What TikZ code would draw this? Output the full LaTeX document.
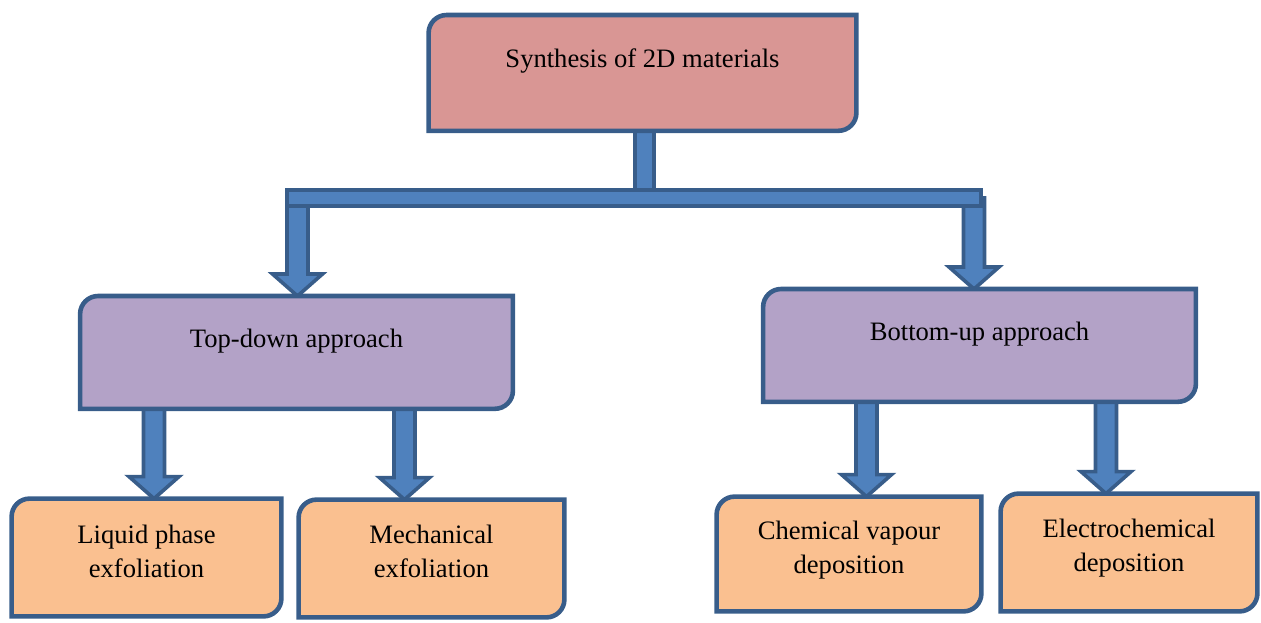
\documentclass[tikz,border=0pt]{standalone}
\usepackage{fontspec}
\setmainfont{Liberation Serif}
\usetikzlibrary{calc,backgrounds}
\definecolor{lineblue}{HTML}{385D8A}
\definecolor{fillblue}{HTML}{4F81BD}
\definecolor{rosefill}{HTML}{D99694}
\definecolor{lilacfill}{HTML}{B3A2C7}
\definecolor{peachfill}{HTML}{FAC090}
\tikzset{
  boxline/.style={draw=lineblue, line width=2.3pt},
  arrowline/.style={draw=lineblue, fill=fillblue, line width=1.8pt},
  boxtext/.style={inner sep=0pt, font=\fontsize{13.3}{17}\selectfont},
  headbox/.style={boxtext, anchor=north, minimum width=213.5pt, text height=26pt, text depth=31.5pt},
  midbox/.style={boxtext, anchor=north, minimum width=216pt, text height=25.5pt, text depth=30.5pt},
  leafbox/.style={boxtext, align=center, minimum height=58.5pt},
  textlift/.style={execute at end node={\rule[-#1]{0pt}{0pt}}}
}
% box with round top-left and bottom-right corners
\newcommand{\cornerbox}[2]{%
  \draw[boxline, fill=#2] (#1.south west) -- ([yshift=-9pt]#1.north west)
    arc[start angle=180, end angle=90, radius=9pt] -- (#1.north east)
    -- ([yshift=9pt]#1.south east) arc[start angle=0, end angle=-90, radius=9pt] -- cycle;}
% block arrow, straight down from #1 to the level of #2
\newcommand{\fatarrow}[2]{%
  \draw[arrowline] let \p1=(#1), \p2=(#2) in
    (\x1-5.25pt,\y1) -- (\x1-5.25pt,\y2+11pt) -- (\x1-12.5pt,\y2+11pt) -- (\x1,\y2)
    -- (\x1+12.5pt,\y2+11pt) -- (\x1+5.25pt,\y2+11pt) -- (\x1+5.25pt,\y1) -- cycle;}

\begin{document}
\begin{tikzpicture}[x=0.5pt,y=0.5pt]
\useasboundingbox (0,0) rectangle (1261,-622);
%Text
\node[headbox] (syn) at (642.5,-15) {Synthesis of 2D materials};
\node[midbox] (td) at (296.5,-296) {Top-down approach};
\node[midbox] (bu) at (979.5,-289) {Bottom-up approach};
\node[leafbox, textlift=6pt, minimum width=134.5pt] (ll) at (146.5,-557.5) {Liquid phase\\exfoliation};
\node[leafbox, textlift=7pt, minimum width=132.5pt] (me) at (431.5,-558.5) {Mechanical\\exfoliation};
\node[leafbox, textlift=7pt, minimum width=132pt, minimum height=57pt] (cvd) at (849,-554) {Chemical vapour\\deposition};
\node[leafbox, textlift=7pt, minimum width=128pt] (ecd) at (1129,-552.5) {Electrochemical\\deposition};
\coordinate (split) at (644.5,-198);
\coordinate (barL) at (287,-198);
\coordinate (barR) at (981,-198);
\begin{pgfonlayer}{background}
%arrows
\fatarrow{[xshift=5.25pt]barL}{td.north}
\fatarrow{[xshift=-3.5pt]barR}{bu.north}
\fatarrow{[xshift=-71.25pt]td.south}{ll.north}
\fatarrow{[xshift=54pt]td.south}{me.north}
\fatarrow{[xshift=-56.5pt]bu.south}{cvd.north}
\fatarrow{[xshift=63.25pt]bu.south}{ecd.north}
\draw[arrowline] ($(syn.south -| split)+(-4.75pt,0)$) rectangle ($(split)+(4.75pt,0)$);
\draw[arrowline] ([yshift=4pt]barL) rectangle ([yshift=-4pt]barR);
%boxes
\cornerbox{syn}{rosefill}
\cornerbox{td}{lilacfill}
\cornerbox{bu}{lilacfill}
\cornerbox{ll}{peachfill}
\cornerbox{me}{peachfill}
\cornerbox{cvd}{peachfill}
\cornerbox{ecd}{peachfill}
\end{pgfonlayer}
\end{tikzpicture}
\end{document}
